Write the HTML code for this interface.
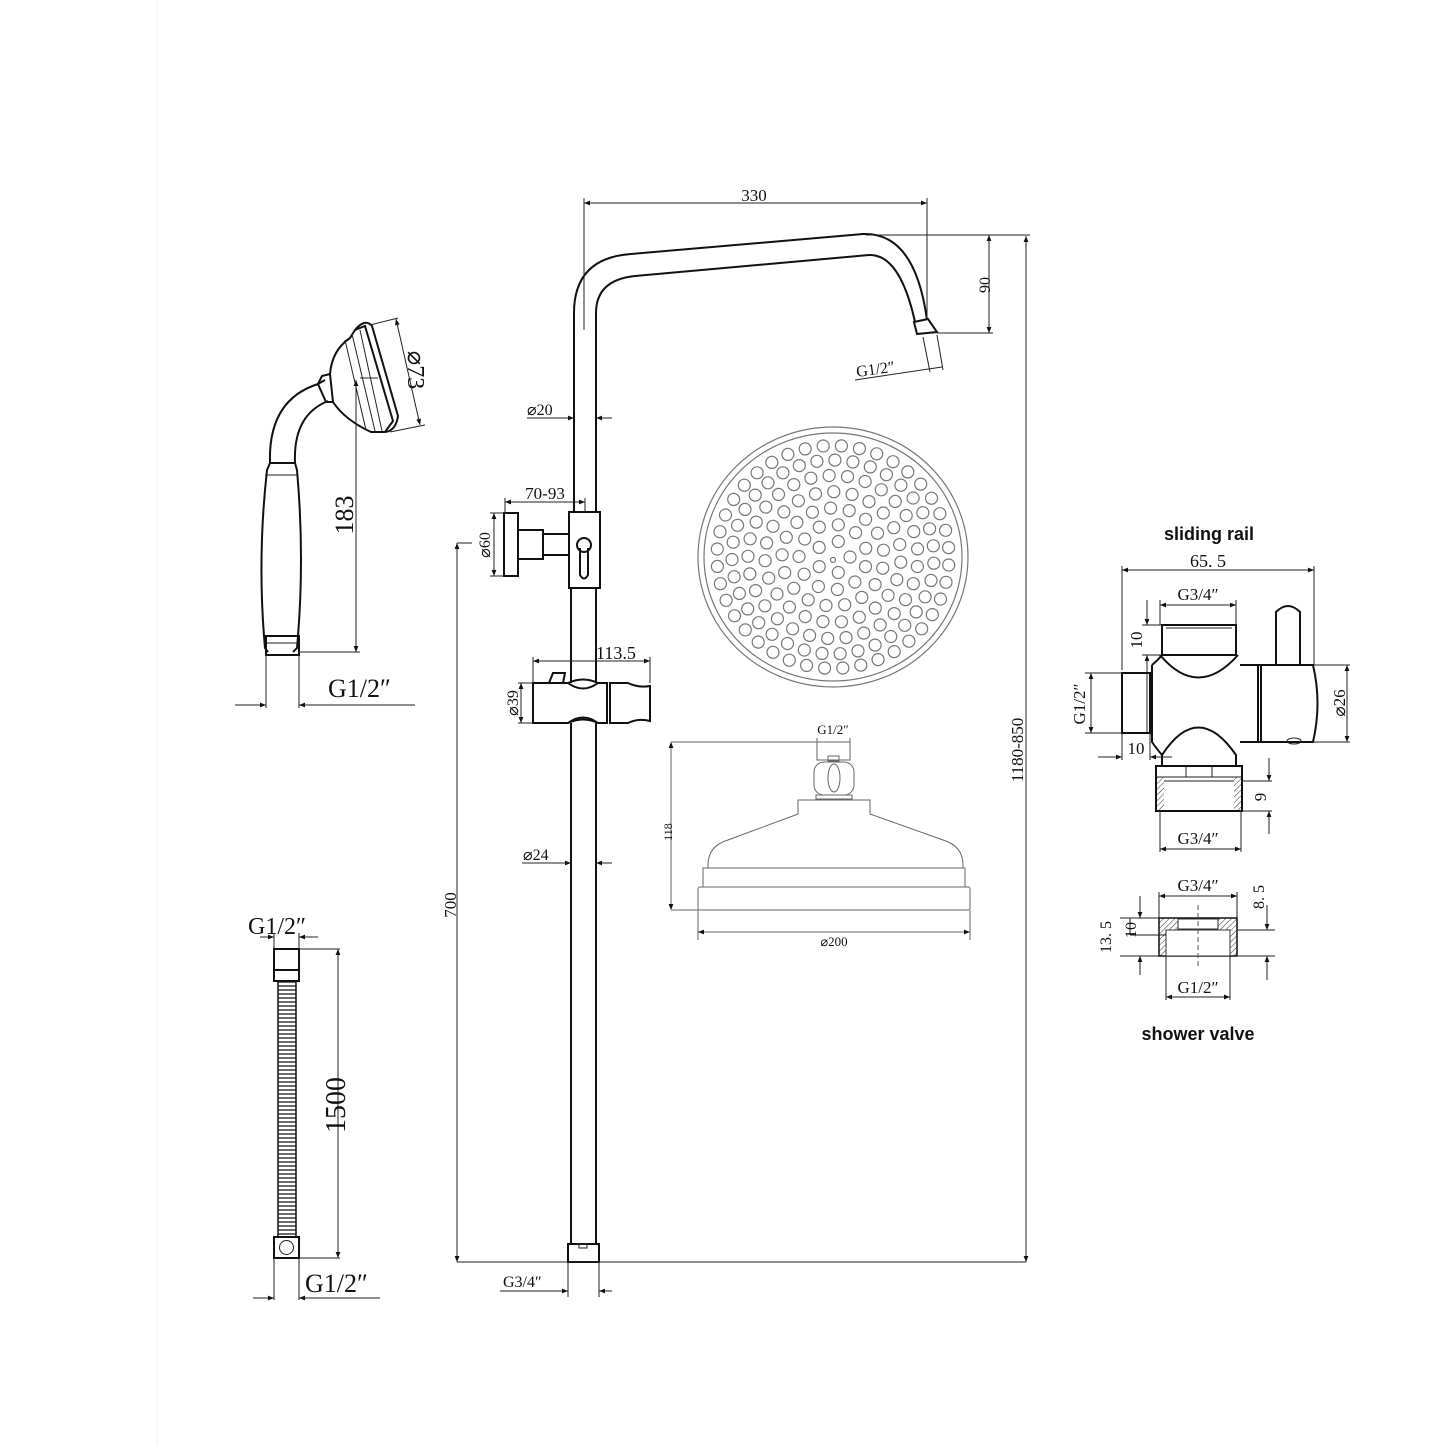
<!DOCTYPE html>
<html><head><meta charset="utf-8"><style>
html,body{margin:0;padding:0;background:#fff}
svg{display:block}
text{font-family:"Liberation Serif",serif;fill:#111}
.s{fill:none;stroke:#111;stroke-width:2}
.t{fill:none;stroke:#222;stroke-width:1}
.g{fill:none;stroke:#666;stroke-width:1}
.h{fill:none;stroke:#777;stroke-width:1.2}
</style></head><body>
<svg id="sv" width="1445" height="1445" viewBox="0 0 1445 1445" xmlns="http://www.w3.org/2000/svg">
<defs>
<marker id="a" viewBox="0 0 10 10" refX="10" refY="5" markerWidth="8" markerHeight="6" orient="auto-start-reverse" markerUnits="userSpaceOnUse"><path d="M0,1L10,5L0,9z" fill="#111"/></marker>
<pattern id="hp" width="4" height="4" patternUnits="userSpaceOnUse" patternTransform="rotate(45)"><line x1="0" y1="0" x2="0" y2="4" stroke="#333" stroke-width="1"/></pattern>
<pattern id="hz" width="18" height="4" patternUnits="userSpaceOnUse"><line x1="0" y1="2" x2="18" y2="2" stroke="#111" stroke-width="1.2"/></pattern>
</defs>
<line x1="157" y1="0" x2="157" y2="1445" stroke="#f2f2f2"/>

<!-- ===== MAIN RAIL ===== -->
<path class="s" d="M574,335 L574,313 Q574,258 631,254 L863,234 Q915,232 927,320"/>
<path class="s" d="M596,335 L596,313 Q596,280 635,276 L869,255 Q900,254 915,322"/>
<polygon class="s" points="914,322 928,319 937,332 917,334"/>
<path class="s" d="M574,313 L574,512 M596,313 L596,512"/>
<path class="t" d="M584,330 L584,198 M927,320 L927,198"/>
<line class="t" x1="584" y1="203" x2="927" y2="203" marker-start="url(#a)" marker-end="url(#a)"/>
<text x="754" y="201" font-size="17" text-anchor="middle">330</text>
<path class="t" d="M866,235 L1030,235 M937,333 L993,333"/>
<line class="t" x1="989" y1="235" x2="989" y2="333" marker-start="url(#a)" marker-end="url(#a)"/>
<text transform="translate(990,285) rotate(-90)" font-size="16" text-anchor="middle">90</text>
<path class="t" d="M923,337 L930,372 M937,335 L943,370"/>
<line class="t" x1="855" y1="380" x2="942" y2="367"/>
<text transform="translate(857,377) rotate(-8)" font-size="16">G1/2″</text>
<line class="t" x1="1026" y1="236" x2="1026" y2="1262" marker-start="url(#a)" marker-end="url(#a)"/>
<text transform="translate(1023,750) rotate(-90)" font-size="17" text-anchor="middle">1180-850</text>
<line class="t" x1="527" y1="418" x2="574" y2="418" marker-end="url(#a)"/>
<line class="t" x1="612" y1="418" x2="596" y2="418" marker-end="url(#a)"/>
<text x="527" y="415" font-size="16">⌀20</text>
<rect class="s" x="504" y="513" width="14" height="63"/>
<rect class="s" x="518" y="530" width="25" height="29"/>
<rect class="s" x="543" y="534" width="26" height="21"/>
<rect class="s" x="569" y="512" width="31" height="76"/>
<circle class="s" cx="584" cy="545" r="7"/>
<path class="s" d="M580,548 L580,575 Q584,582 588,575 L588,548"/>
<path class="t" d="M505,498 L505,513 M585,498 L585,512"/>
<line class="t" x1="505" y1="502" x2="585" y2="502" marker-start="url(#a)" marker-end="url(#a)"/>
<text x="545" y="499" font-size="17" text-anchor="middle">70-93</text>
<path class="t" d="M490,513 L504,513 M490,576 L504,576"/>
<line class="t" x1="494" y1="513" x2="494" y2="576" marker-start="url(#a)" marker-end="url(#a)"/>
<text transform="translate(490,545) rotate(-90)" font-size="16" text-anchor="middle">⌀60</text>
<path class="t" d="M457,543 L472,543"/>
<line class="t" x1="457" y1="543" x2="457" y2="1262" marker-start="url(#a)" marker-end="url(#a)"/>
<text transform="translate(456,905) rotate(-90)" font-size="17" text-anchor="middle">700</text>
<path class="s" d="M571,588 L571,683 M596,588 L596,683 M571,723 L571,1244 M596,723 L596,1244"/>
<path class="s" d="M533,683 L568,683 Q583,676 598,683 L607,683 L607,723 L598,723 Q583,716 568,723 L533,723 Z"/>
<path class="s" d="M568,683 Q583,694 598,683 M568,723 Q583,712 598,723"/>
<path class="s" d="M610,683 L628,683 Q638,688 650,686 L650,721 Q638,718 628,723 L610,723 Z"/>
<path class="s" d="M549,683 L553,673 L565,673 L563,683"/>
<path class="t" d="M533,657 L533,683 M650,657 L650,683"/>
<line class="t" x1="533" y1="661" x2="650" y2="661" marker-start="url(#a)" marker-end="url(#a)"/>
<text x="596" y="659" font-size="18">113.5</text>
<path class="t" d="M518,683 L533,683 M518,723 L533,723"/>
<line class="t" x1="521" y1="683" x2="521" y2="723" marker-start="url(#a)" marker-end="url(#a)"/>
<text transform="translate(518,703) rotate(-90)" font-size="16" text-anchor="middle">⌀39</text>
<line class="t" x1="522" y1="863" x2="571" y2="863" marker-end="url(#a)"/>
<line class="t" x1="612" y1="863" x2="596" y2="863" marker-end="url(#a)"/>
<text x="523" y="860" font-size="16">⌀24</text>
<rect class="s" x="568" y="1244" width="31" height="18"/>
<rect class="t" x="579" y="1244" width="8" height="4"/>
<line class="t" x1="457" y1="1262" x2="1026" y2="1262"/>
<path class="t" d="M568,1262 L568,1297 M599,1262 L599,1297"/>
<line class="t" x1="500" y1="1291" x2="568" y2="1291" marker-end="url(#a)"/>
<line class="t" x1="612" y1="1291" x2="599" y2="1291" marker-end="url(#a)"/>
<text x="503" y="1287" font-size="16">G3/4″</text>

<!-- ===== SHOWER HEAD TOP ===== -->
<ellipse class="h" cx="833" cy="557" rx="135" ry="130"/>
<ellipse class="h" cx="833" cy="557" rx="129" ry="124"/>
<g id="holes"></g>
<circle class="h" cx="833" cy="560" r="2.5"/>

<!-- ===== SHOWER HEAD SIDE ===== -->
<text x="833" y="734" font-size="13" text-anchor="middle">G1/2″</text>
<path class="g" d="M817,738 L817,745 M850,738 L850,745"/>
<rect class="g" x="817" y="742" width="33" height="18"/>
<rect class="g" x="828" y="756" width="11" height="5"/>
<rect class="g" x="814" y="762" width="40" height="33" rx="10"/>
<ellipse class="g" cx="834" cy="778" rx="6" ry="14"/>
<rect class="g" x="816" y="795" width="36" height="4"/>
<path class="g" d="M798,814 L798,800 L870,800 L870,814 L943,840 Q963,846 963,865 L963,868 L708,868 L708,865 Q708,846 728,840 Z"/>
<rect class="g" x="703" y="868" width="262" height="19"/>
<rect class="g" x="698" y="887" width="272" height="23" rx="2"/>
<path class="g" d="M671,742 L820,742 M671,910 L698,910"/>
<line class="g" x1="671" y1="742" x2="671" y2="910" marker-start="url(#a)" marker-end="url(#a)"/>
<text transform="translate(672,832) rotate(-90)" font-size="12" text-anchor="middle">118</text>
<path class="g" d="M698,910 L698,940 M970,910 L970,940"/>
<line class="g" x1="698" y1="932" x2="970" y2="932" marker-start="url(#a)" marker-end="url(#a)"/>
<text x="834" y="946" font-size="13" text-anchor="middle">⌀200</text>

<!-- ===== HAND SHOWER ===== -->
<path class="s" d="M270,463 Q268,400 318,384 L325,380 M295,463 Q293,415 328,401"/>
<path class="s" d="M318,384 L322,376 L330,374 L333,402 L326,402 Z"/>
<path class="s" d="M330,374 Q332,350 350,338 L355,330 L365,326 L393,421 L385,432 L371,432 Q345,420 333,402"/>
<path class="s" d="M355,330 Q365,318 372,326 L398,416 Q396,430 386,432"/>
<path class="t" d="M345,340 L366,430 M352,334 L375,431 M360,330 L382,431"/>
<path class="s" d="M270,463 L295,463 L297,470 Q305,560 297,648 L293,652 M270,463 L267,470 Q257,560 265,648 L268,652"/>
<path class="t" d="M265,475 L298,475 M264,643 L298,643"/>
<rect class="s" x="266" y="636" width="33" height="19"/>
<path class="t" d="M360,378 L378,378"/>
<line class="t" x1="356" y1="380" x2="356" y2="652" marker-start="url(#a)" marker-end="url(#a)"/>
<path class="t" d="M299,652 L360,652"/>
<text transform="translate(353,515) rotate(-90)" font-size="26" text-anchor="middle">183</text>
<path class="t" d="M370,325 L398,318 M390,432 L425,425"/>
<line class="t" x1="396" y1="319" x2="420" y2="425" marker-start="url(#a)" marker-end="url(#a)"/>
<text transform="translate(408,370) rotate(90)" font-size="24" text-anchor="middle">⌀73</text>
<path class="t" d="M266,655 L266,708 M299,655 L299,708"/>
<line class="t" x1="235" y1="705" x2="266" y2="705" marker-end="url(#a)"/>
<line class="t" x1="415" y1="705" x2="299" y2="705" marker-end="url(#a)"/>
<text x="328" y="697" font-size="26">G1/2″</text>

<!-- ===== HOSE ===== -->
<text x="248" y="934" font-size="24">G1/2″</text>
<path class="t" d="M274,933 L274,949 M299,933 L299,949"/>
<line class="t" x1="260" y1="937" x2="274" y2="937" marker-end="url(#a)"/>
<line class="t" x1="318" y1="937" x2="299" y2="937" marker-end="url(#a)"/>
<path class="s" d="M274,949 L299,949 L299,981 L274,981 Z M274,970 L299,970"/>
<rect x="278" y="981" width="18" height="256" fill="url(#hz)" stroke="#111" stroke-width="1.5"/>
<rect class="s" x="274" y="1237" width="25" height="21"/>
<circle class="t" cx="286.5" cy="1247.5" r="7"/>
<path class="t" d="M299,949 L340,949 M299,1258 L340,1258"/>
<line class="t" x1="338" y1="949" x2="338" y2="1258" marker-start="url(#a)" marker-end="url(#a)"/>
<text transform="translate(345,1105) rotate(-90)" font-size="28" text-anchor="middle">1500</text>
<path class="t" d="M274,1258 L274,1300 M299,1258 L299,1300"/>
<line class="t" x1="253" y1="1298" x2="274" y2="1298" marker-end="url(#a)"/>
<line class="t" x1="380" y1="1298" x2="299" y2="1298" marker-end="url(#a)"/>
<text x="305" y="1292" font-size="26">G1/2″</text>

<!-- ===== SLIDING RAIL PART ===== -->
<text x="1209" y="540" font-size="18" text-anchor="middle" style="font-family:'Liberation Sans',sans-serif;font-weight:bold">sliding rail</text>
<path class="t" d="M1122,566 L1122,670 M1314,566 L1314,665"/>
<line class="t" x1="1122" y1="570" x2="1314" y2="570" marker-start="url(#a)" marker-end="url(#a)"/>
<text x="1208" y="567" font-size="18" text-anchor="middle">65. 5</text>
<path class="t" d="M1160,600 L1160,625 M1236,600 L1236,625"/>
<line class="t" x1="1160" y1="605" x2="1236" y2="605" marker-start="url(#a)" marker-end="url(#a)"/>
<text x="1198" y="600" font-size="17" text-anchor="middle">G3/4″</text>
<path class="t" d="M1142,625 L1162,625 M1142,655 L1160,655"/>
<line class="t" x1="1147" y1="600" x2="1147" y2="625" marker-end="url(#a)"/>
<line class="t" x1="1147" y1="680" x2="1147" y2="655" marker-end="url(#a)"/>
<text transform="translate(1142,640) rotate(-90)" font-size="17" text-anchor="middle">10</text>
<rect class="s" x="1162" y="625" width="74" height="30"/>
<line class="t" x1="1166" y1="628" x2="1232" y2="628"/>
<path class="s" d="M1160,655 Q1198,700 1238,655"/>
<path class="s" d="M1240,665 L1258,665 L1258,742 L1240,742"/>
<path class="s" d="M1258,665 L1313,665 Q1322,703 1313,742 L1258,742"/>
<line class="s" x1="1261" y1="665" x2="1261" y2="742"/>
<path class="s" d="M1276,665 L1276,612 Q1288,600 1300,612 L1300,665"/>
<ellipse class="t" cx="1294" cy="741" rx="7" ry="3"/>
<path class="s" d="M1152,665 Q1158,660 1162,655 M1152,665 L1152,742 Q1156,748 1162,755"/>
<rect class="s" x="1122" y="673" width="28" height="60"/>
<line class="t" x1="1147" y1="673" x2="1147" y2="733"/>
<path class="s" d="M1162,755 Q1198,700 1236,755 L1236,766"/>
<line class="s" x1="1162" y1="755" x2="1162" y2="766"/>
<rect class="s" x="1156" y="766" width="86" height="45"/>
<path class="t" d="M1156,777 L1242,777 M1186,766 L1186,777 M1212,766 L1212,777"/>
<rect x="1157" y="777" width="7" height="33" fill="url(#hp)"/>
<rect x="1234" y="777" width="7" height="33" fill="url(#hp)"/>
<line class="t" x1="1164" y1="781" x2="1234" y2="781"/>
<path class="t" d="M1085,673 L1122,673 M1085,733 L1122,733"/>
<line class="t" x1="1091" y1="673" x2="1091" y2="733" marker-start="url(#a)" marker-end="url(#a)"/>
<text transform="translate(1085,704) rotate(-90)" font-size="17" text-anchor="middle">G1/2″</text>
<line class="t" x1="1098" y1="757" x2="1122" y2="757" marker-end="url(#a)"/>
<line class="t" x1="1172" y1="757" x2="1150" y2="757" marker-end="url(#a)"/>
<path class="t" d="M1122,733 L1122,760 M1150,733 L1150,760"/>
<text x="1136" y="754" font-size="17" text-anchor="middle">10</text>
<path class="t" d="M1313,665 L1350,665 M1313,742 L1350,742"/>
<line class="t" x1="1347" y1="665" x2="1347" y2="742" marker-start="url(#a)" marker-end="url(#a)"/>
<text transform="translate(1345,703) rotate(-90)" font-size="17" text-anchor="middle">⌀26</text>
<path class="t" d="M1242,781 L1272,781 M1242,811 L1272,811"/>
<line class="t" x1="1269" y1="758" x2="1269" y2="781" marker-end="url(#a)"/>
<line class="t" x1="1269" y1="834" x2="1269" y2="811" marker-end="url(#a)"/>
<text transform="translate(1266,797) rotate(-90)" font-size="17" text-anchor="middle">9</text>
<path class="t" d="M1160,811 L1160,852 M1241,811 L1241,852"/>
<line class="t" x1="1160" y1="849" x2="1241" y2="849" marker-start="url(#a)" marker-end="url(#a)"/>
<text x="1198" y="844" font-size="17" text-anchor="middle">G3/4″</text>

<!-- ===== SHOWER VALVE ===== -->
<text x="1198" y="891" font-size="17" text-anchor="middle">G3/4″</text>
<path class="t" d="M1159,892 L1159,918 M1237,892 L1237,918"/>
<line class="t" x1="1159" y1="896" x2="1237" y2="896" marker-start="url(#a)" marker-end="url(#a)"/>
<rect x="1159" y="918" width="78" height="38" fill="url(#hp)" stroke="#111" stroke-width="1.5"/>
<rect x="1166" y="930" width="64" height="26" fill="#fff" stroke="#333"/>
<rect x="1178" y="919" width="40" height="10" fill="#fff" stroke="#333"/>
<line x1="1198" y1="905" x2="1198" y2="966" stroke="#555" stroke-dasharray="5,3"/>
<path class="t" d="M1120,918 L1159,918 M1120,956 L1159,956 M1130,935 L1166,935 M1237,930 L1275,930 M1237,956 L1275,956"/>
<line class="t" x1="1140" y1="896" x2="1140" y2="918" marker-end="url(#a)"/>
<line class="t" x1="1140" y1="975" x2="1140" y2="956" marker-end="url(#a)"/>
<line class="t" x1="1130" y1="918" x2="1130" y2="935"/>
<text transform="translate(1111,937) rotate(-90)" font-size="16" text-anchor="middle">13. 5</text>
<text transform="translate(1136,930) rotate(-90)" font-size="16" text-anchor="middle">10</text>
<line class="t" x1="1267" y1="905" x2="1267" y2="930" marker-end="url(#a)"/>
<line class="t" x1="1267" y1="980" x2="1267" y2="956" marker-end="url(#a)"/>
<text transform="translate(1264,897) rotate(-90)" font-size="16" text-anchor="middle">8. 5</text>
<path class="t" d="M1166,956 L1166,1000 M1230,956 L1230,1000"/>
<line class="t" x1="1166" y1="997" x2="1230" y2="997" marker-start="url(#a)" marker-end="url(#a)"/>
<text x="1198" y="993" font-size="17" text-anchor="middle">G1/2″</text>
<text x="1198" y="1040" font-size="18" text-anchor="middle" style="font-family:'Liberation Sans',sans-serif;font-weight:bold">shower valve</text>
</svg>
<script>
(function(){var g=document.getElementById('holes'),ns='http://www.w3.org/2000/svg',cx=833,cy=557;
var rings=[[17,5],[34,11],[51,17],[68,23],[85,29],[101,35],[116,40]];
rings.forEach(function(r,i){for(var k=0;k<r[1];k++){var a=2*Math.PI*k/r[1]+i*0.3;var c=document.createElementNS(ns,'circle');
c.setAttribute('cx',(cx+r[0]*Math.cos(a)).toFixed(1));c.setAttribute('cy',(cy+r[0]*0.96*Math.sin(a)).toFixed(1));c.setAttribute('r','6');c.setAttribute('class','h');g.appendChild(c);}});})();
</script>
</body></html>
